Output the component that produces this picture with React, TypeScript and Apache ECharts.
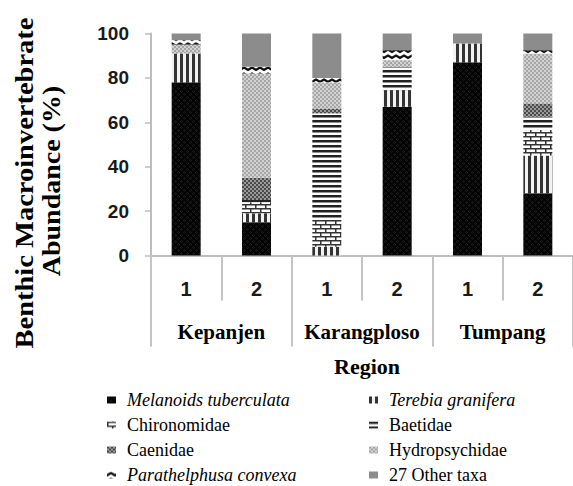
import React, { useEffect, useRef } from "react";
import * as echarts from "echarts";

const sites = ["1", "2", "1", "2", "1", "2"];
const regions = ["Kepanjen", "Karangploso", "Tumpang"];

const taxa = [
  "Melanoids tuberculata",
  "Terebia granifera",
  "Chironomidae",
  "Baetidae",
  "Caenidae",
  "Hydropsychidae",
  "Parathelphusa convexa",
  "27 Other taxa",
];
const italicTaxa = ["Melanoids tuberculata", "Terebia granifera", "Parathelphusa convexa"];

const melanoids = [78, 15, 0, 67, 87, 28];
const terebia = [13, 4, 4, 7.5, 8.5, 17];
const chironomidae = [0, 5, 12, 0, 0, 11.5];
const baetidae = [0, 1, 48, 10.5, 0, 6];
const caenidae = [0, 10, 2, 0, 0, 6];
const hydropsychidae = [4, 47, 12, 3, 0, 22.5];
const parathelphusa = [2, 3, 2, 4.5, 0, 1.5];
const otherTaxa = [3, 15, 20, 7.5, 4.5, 7.5];

const seriesValues = [
  melanoids,
  terebia,
  chironomidae,
  baetidae,
  caenidae,
  hydropsychidae,
  parathelphusa,
  otherTaxa,
];

const leftLegend = [taxa[0], taxa[2], taxa[4], taxa[6]];
const rightLegend = [taxa[1], taxa[3], taxa[5], taxa[7]];

function makePattern(w: number, h: number, draw: (ctx: CanvasRenderingContext2D) => void) {
  const c = document.createElement("canvas");
  c.width = w;
  c.height = h;
  const ctx = c.getContext("2d") as CanvasRenderingContext2D;
  draw(ctx);
  return { image: c, repeat: "repeat", imageWidth: w, imageHeight: h } as any;
}

function buildPatterns() {
  const mel = makePattern(6, 6, (ctx) => {
    ctx.fillStyle = "#030303";
    ctx.fillRect(0, 0, 6, 6);
    ctx.strokeStyle = "#383838";
    ctx.lineWidth = 0.6;
    ctx.beginPath();
    ctx.arc(1.5, 1.5, 0.9, 0, Math.PI * 2);
    ctx.stroke();
    ctx.beginPath();
    ctx.arc(4.5, 4.5, 0.9, 0, Math.PI * 2);
    ctx.stroke();
  });
  const ter = makePattern(6, 2, (ctx) => {
    ctx.fillStyle = "#f2f2f2";
    ctx.fillRect(0, 0, 6, 2);
    ctx.fillStyle = "#333333";
    ctx.fillRect(0, 0, 3, 2);
  });
  const chi = makePattern(10, 8, (ctx) => {
    ctx.fillStyle = "#ffffff";
    ctx.fillRect(0, 0, 10, 8);
    ctx.fillStyle = "#333333";
    ctx.fillRect(0, 0, 10, 1.5);
    ctx.fillRect(0, 4, 10, 1.5);
    ctx.fillRect(0, 0, 1.5, 4);
    ctx.fillRect(5, 4, 1.5, 4);
  });
  const bae = makePattern(2, 5, (ctx) => {
    ctx.fillStyle = "#ffffff";
    ctx.fillRect(0, 0, 2, 5);
    ctx.fillStyle = "#222222";
    ctx.fillRect(0, 0, 2, 2.5);
  });
  const cae = makePattern(4, 4, (ctx) => {
    ctx.fillStyle = "#9a9a9a";
    ctx.fillRect(0, 0, 4, 4);
    ctx.fillStyle = "#4a4a4a";
    ctx.fillRect(0, 0, 2, 2);
    ctx.fillRect(2, 2, 2, 2);
  });
  const hyd = makePattern(4, 4, (ctx) => {
    ctx.fillStyle = "#d2d2d2";
    ctx.fillRect(0, 0, 4, 4);
    ctx.fillStyle = "#a6a6a6";
    ctx.fillRect(0, 0, 2, 2);
    ctx.fillRect(2, 2, 2, 2);
  });
  const par = makePattern(8, 6, (ctx) => {
    ctx.fillStyle = "#ffffff";
    ctx.fillRect(0, 0, 8, 6);
    ctx.strokeStyle = "#111111";
    ctx.lineWidth = 2.2;
    ctx.beginPath();
    ctx.moveTo(-1, 4.5);
    ctx.lineTo(4, 1.5);
    ctx.lineTo(9, 4.5);
    ctx.stroke();
  });
  return [mel, ter, chi, bae, cae, hyd, par, "#8c8c8c"];
}

const SERIF = "Times New Roman, Liberation Serif, DejaVu Serif, serif";
const SANS = "Arial, Liberation Sans, sans-serif";

export default function App() {
  const ref = useRef<HTMLDivElement>(null);

  useEffect(() => {
    if (!ref.current) return;
    const chart = echarts.init(ref.current, null, { renderer: "svg" });
    const patterns = buildPatterns();

    const legendText = {
      fontFamily: SERIF,
      fontSize: 18,
      lineHeight: 18,
      color: "#000",
      padding: [0, 0, 0, 6],
      rich: {
        i: { fontFamily: SERIF, fontSize: 18, lineHeight: 18, fontStyle: "italic", color: "#000" },
        n: { fontFamily: SERIF, fontSize: 18, lineHeight: 18, color: "#000" },
      },
    };
    const legendFormatter = (name: string) =>
      italicTaxa.indexOf(name) >= 0 ? `{i|${name}}` : `{n|${name}}`;

    const option: any = {
      animation: false,
      backgroundColor: "#ffffff",
      grid: { left: 151, top: 33.5, width: 444, height: 222, containLabel: false },
      legend: [
        {
          data: leftLegend,
          orient: "vertical",
          left: 107,
          top: 391,
          padding: 0,
          itemGap: 7,
          itemWidth: 9,
          itemHeight: 7,
          icon: "rect",
          selectedMode: false,
          textStyle: legendText,
          formatter: legendFormatter,
        },
        {
          data: rightLegend,
          orient: "vertical",
          left: 369,
          top: 391,
          padding: 0,
          itemGap: 7,
          itemWidth: 9,
          itemHeight: 7,
          icon: "rect",
          selectedMode: false,
          textStyle: legendText,
          formatter: legendFormatter,
        },
      ],
      xAxis: [
        {
          type: "category",
          data: sites,
          position: "bottom",
          axisLine: { show: true, lineStyle: { color: "#bdbdbd", width: 2 } },
          axisTick: { show: true, interval: 0, length: 45, lineStyle: { color: "#c4c4c4", width: 2 } },
          axisLabel: {
            interval: 0,
            margin: 23,
            fontFamily: SANS,
            fontWeight: "bold",
            fontSize: 20,
            color: "#1a1a1a",
          },
        },
        {
          type: "category",
          data: regions,
          position: "bottom",
          axisLine: { show: false },
          axisTick: { show: true, interval: 0, length: 91, lineStyle: { color: "#c4c4c4", width: 2 } },
          axisLabel: {
            interval: 0,
            margin: 66,
            fontFamily: SERIF,
            fontWeight: "bold",
            fontSize: 21,
            color: "#000",
          },
        },
      ],
      yAxis: {
        type: "value",
        min: 0,
        max: 100,
        interval: 20,
        axisLine: { show: true, lineStyle: { color: "#bdbdbd", width: 2 } },
        axisTick: { show: true, length: 6, lineStyle: { color: "#bdbdbd", width: 1.5 } },
        splitLine: { show: false },
        axisLabel: {
          margin: 22,
          fontFamily: SANS,
          fontWeight: "bold",
          fontSize: 19,
          color: "#1a1a1a",
        },
      },
      series: taxa.map((name, i) => ({
        name,
        type: "bar",
        stack: "total",
        xAxisIndex: 0,
        barWidth: 29,
        data: seriesValues[i],
        itemStyle: { color: patterns[i] },
        emphasis: { disabled: true },
      })),
      graphic: [
        {
          type: "text",
          x: 25,
          y: 183,
          rotation: Math.PI / 2,
          scaleX: 1.14,
          style: {
            text: "Benthic Macroinvertebrate",
            fontFamily: SERIF,
            fontWeight: "bold",
            fontSize: 25,
            fill: "#000",
            textAlign: "center",
            textVerticalAlign: "middle",
          },
        },
        {
          type: "text",
          x: 52,
          y: 181,
          rotation: Math.PI / 2,
          scaleX: 1.12,
          style: {
            text: "Abundance (%)",
            fontFamily: SERIF,
            fontWeight: "bold",
            fontSize: 25,
            fill: "#000",
            textAlign: "center",
            textVerticalAlign: "middle",
          },
        },
        {
          type: "text",
          x: 367,
          y: 366,
          style: {
            text: "Region",
            fontFamily: SERIF,
            fontWeight: "bold",
            fontSize: 22,
            fill: "#000",
            textAlign: "center",
            textVerticalAlign: "middle",
          },
        },
      ],
    };
    chart.setOption(option);
    return () => chart.dispose();
  }, []);

  return (
    <div
      ref={ref}
      style={{ position: "absolute", left: 0, top: 0, width: 573, height: 486, background: "#fff" }}
    />
  );
}
